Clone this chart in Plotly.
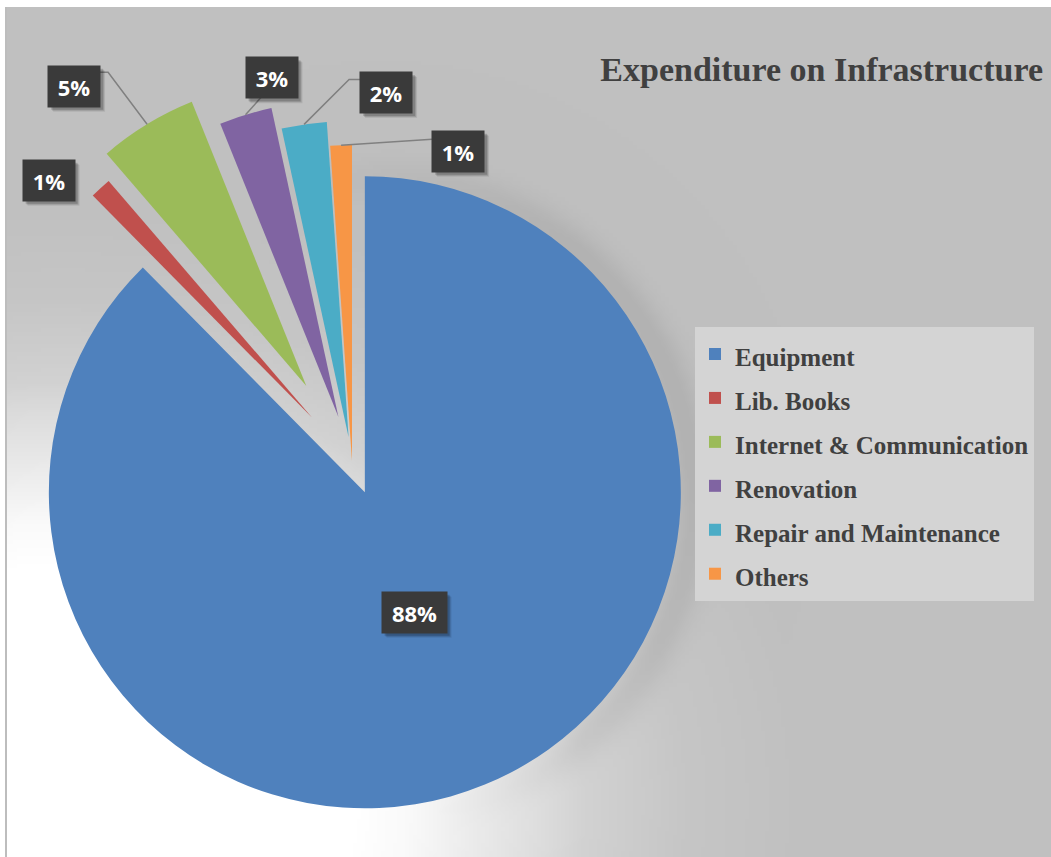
import base64
import math
import struct
import zlib

import numpy as np
import plotly.graph_objects as go

# ---- data -------------------------------------------------------------
categories = ["Equipment", "Lib. Books", "Internet & Communication",
              "Renovation", "Repair and Maintenance", "Others"]
shares = [87.6, 1.1, 5.2, 2.7, 2.3, 1.1]

# ---- style ------------------------------------------------------------
colors = ["#4f81bd", "#c0504d", "#9bbb59", "#8064a2", "#4bacc6", "#f79646"]
explode = [0.107, 0.187, 0.278, 0.146, 0.076, 0.0]      # fraction of radius
# label box offset (px, screen) from the outer edge of each slice
label_offset = [None, (-52, -8), (-73, -38), (26, -37), (82, -32), (117, 6)]
# leader-line bend points, relative to the label box centre (px, screen)
leaders = [None, None, [(34, -14), (25, -14)], [(-10, 19)],
           [(-37, -13), (-26, -13)], [(-26, -12)]]

W, H = 1051, 857
CX, CY, R = 352.0, 461.0, 316.0        # pie centre / radius in px


def px(x):
    return x / W


def py(y):
    return 1 - y / H


# ---- background: grey chart area with a soft light glow lower-left ----
def png_uri(rgb):
    h, w, _ = rgb.shape
    raw = b"".join(b"\x00" + rgb[i].tobytes() for i in range(h))

    def chunk(tag, data):
        body = tag + data
        return struct.pack(">I", len(data)) + body + struct.pack(">I", zlib.crc32(body) & 0xFFFFFFFF)

    png = (b"\x89PNG\r\n\x1a\n"
           + chunk(b"IHDR", struct.pack(">IIBBBBB", w, h, 8, 2, 0, 0, 0))
           + chunk(b"IDAT", zlib.compress(raw, 9))
           + chunk(b"IEND", b""))
    return "data:image/png;base64," + base64.b64encode(png).decode()


BX0, BY0 = 7, 7
step = 4
gx = np.arange(BX0, W, step, dtype=float)
gy = np.arange(BY0, H, step, dtype=float)
X, Y = np.meshgrid(gx, gy)
dist = np.hypot((X - 60) * 0.8, Y - 800)
tone = np.interp(dist, [0, 240, 280, 330, 390, 420, 500, 600, 3000],
                 [255, 255, 250, 236, 220, 210, 198, 192, 192])
glow = (tone - 192) / 63.0
ring = np.hypot(X - (CX + 20), Y - (CY + 36)) - R
side = np.clip((X - CX) / R + 0.3, 0, 1)
shade = 14 * np.exp(-((ring - 4) / 20.0) ** 2) * (1 - glow) * side
tone = np.clip(tone - shade, 0, 255).astype(np.uint8)
bg = np.repeat(tone[:, :, None], 3, axis=2)
bg_uri = png_uri(bg)

# ---- geometry of each (exploded) slice ------------------------------------
total = float(sum(shares))
mids, apexes, radii = [], [], []
acc = 0.0
for v, e in zip(shares, explode):
    mid = math.radians((acc + v / 2) / total * 360.0)
    acc += v
    ax = CX + e * R * math.sin(mid)
    ay = CY - e * R * math.cos(mid)
    half = min(R, ax, W - ax, ay, H - ay)
    mids.append(mid)
    apexes.append((ax, ay))
    radii.append(half)

fig = go.Figure()

# legend source (sits underneath the opaque legend box)
legend_labels = [f"<span style='font-size:25px'>{c}</span>" for c in categories]
fig.add_trace(go.Pie(
    labels=legend_labels, values=shares, sort=False, direction="clockwise",
    rotation=0, marker=dict(colors=colors, line=dict(width=0)),
    textinfo="none", hoverinfo="skip", showlegend=True,
    domain=dict(x=[px(858), px(862)], y=[py(463), py(459)]),
))

for i, (c, (ax, ay), half) in enumerate(zip(colors, apexes, radii)):
    slice_colors = ["rgba(0,0,0,0)"] * len(colors)
    slice_colors[i] = c
    fig.add_trace(go.Pie(
        labels=legend_labels, values=shares, sort=False, direction="clockwise",
        rotation=0, marker=dict(colors=slice_colors, line=dict(width=0)),
        textinfo="none", hoverinfo="skip", showlegend=False,
        domain=dict(x=[px(ax - half), px(ax + half)],
                    y=[py(ay + half), py(ay - half)]),
    ))

# ---- percentage labels ------------------------------------------------------
annotations, shapes = [], []
box_font = dict(family="Open Sans", size=22, color="white", weight="bold")
PAD, BOX_H = 8, 41
for i, v in enumerate(shares):
    txt = f"{v / total:.0%}"
    ax, ay = apexes[i]
    mid = mids[i]
    wbox = 13 * len(txt) + 10
    if label_offset[i] is None:
        lx = ax + 0.41 * R * math.sin(mid)
        ly = ay - 0.41 * R * math.cos(mid)
        dx, dy = 0, 0
    else:
        lx = ax + radii[i] * math.sin(mid)
        ly = ay - radii[i] * math.cos(mid)
        dx, dy = label_offset[i]

    # leader line from the slice edge to the label box
    if leaders[i]:
        pts = [(0, 0)] + [(dx + bx, dy + by) for bx, by in leaders[i]]
        path = "M " + " L ".join(f"{x:.1f},{-y:.1f}" for x, y in pts)
        shapes.append(dict(
            type="path", xref="paper", yref="paper",
            xsizemode="pixel", ysizemode="pixel",
            xanchor=px(lx), yanchor=py(ly), path=path,
            line=dict(color="#808080", width=1.5), layer="above",
        ))

    # soft drop shadow behind the label box
    bw = wbox + 2 * PAD
    for k, alpha in ((5, 0.08), (4, 0.12), (3, 0.16)):
        shapes.append(dict(
            type="rect", xref="paper", yref="paper",
            xsizemode="pixel", ysizemode="pixel",
            xanchor=px(lx), yanchor=py(ly),
            x0=dx + k - bw / 2, x1=dx + k + bw / 2,
            y0=-(dy + k) - BOX_H / 2, y1=-(dy + k) + BOX_H / 2,
            fillcolor=f"rgba(0,0,0,{alpha})", line=dict(width=0), layer="above",
        ))

    annotations.append(dict(
        x=px(lx), y=py(ly), xref="paper", yref="paper", showarrow=False,
        xshift=dx, yshift=-dy, xanchor="center", yanchor="middle",
        text=txt, font=box_font, width=wbox, height=BOX_H - 2 * PAD,
        borderpad=PAD, bgcolor="#3a3a3a",
    ))

shapes.append(dict(type="line", xref="paper", yref="paper",
                   x0=px(6), x1=px(6), y0=0, y1=py(BY0),
                   line=dict(color="#bdbdbd", width=2), layer="below"))

fig.update_layout(
    width=W, height=H,
    margin=dict(l=0, r=0, t=0, b=0),
    paper_bgcolor="white",
    plot_bgcolor="white",
    title=dict(
        text="Expenditure on Infrastructure",
        font=dict(family="Liberation Serif", size=34, color="#404040", weight="bold"),
        x=1043 / W, xanchor="right", y=1 - 69 / H, yanchor="middle",
    ),
    legend=dict(
        x=px(695), y=py(327), xanchor="left", yanchor="top",
        bgcolor="#d4d4d4", borderwidth=0,
        font=dict(family="Liberation Serif", size=31.5, color="#404040", weight="bold"),
        itemwidth=30,
    ),
    images=[dict(
        source=bg_uri, xref="paper", yref="paper",
        x=px(BX0), y=py(BY0), sizex=(W - BX0) / W, sizey=(H - BY0) / H,
        xanchor="left", yanchor="top", sizing="stretch", layer="below",
    )],
    shapes=shapes,
    annotations=annotations,
)

fig.write_html("out.html")
